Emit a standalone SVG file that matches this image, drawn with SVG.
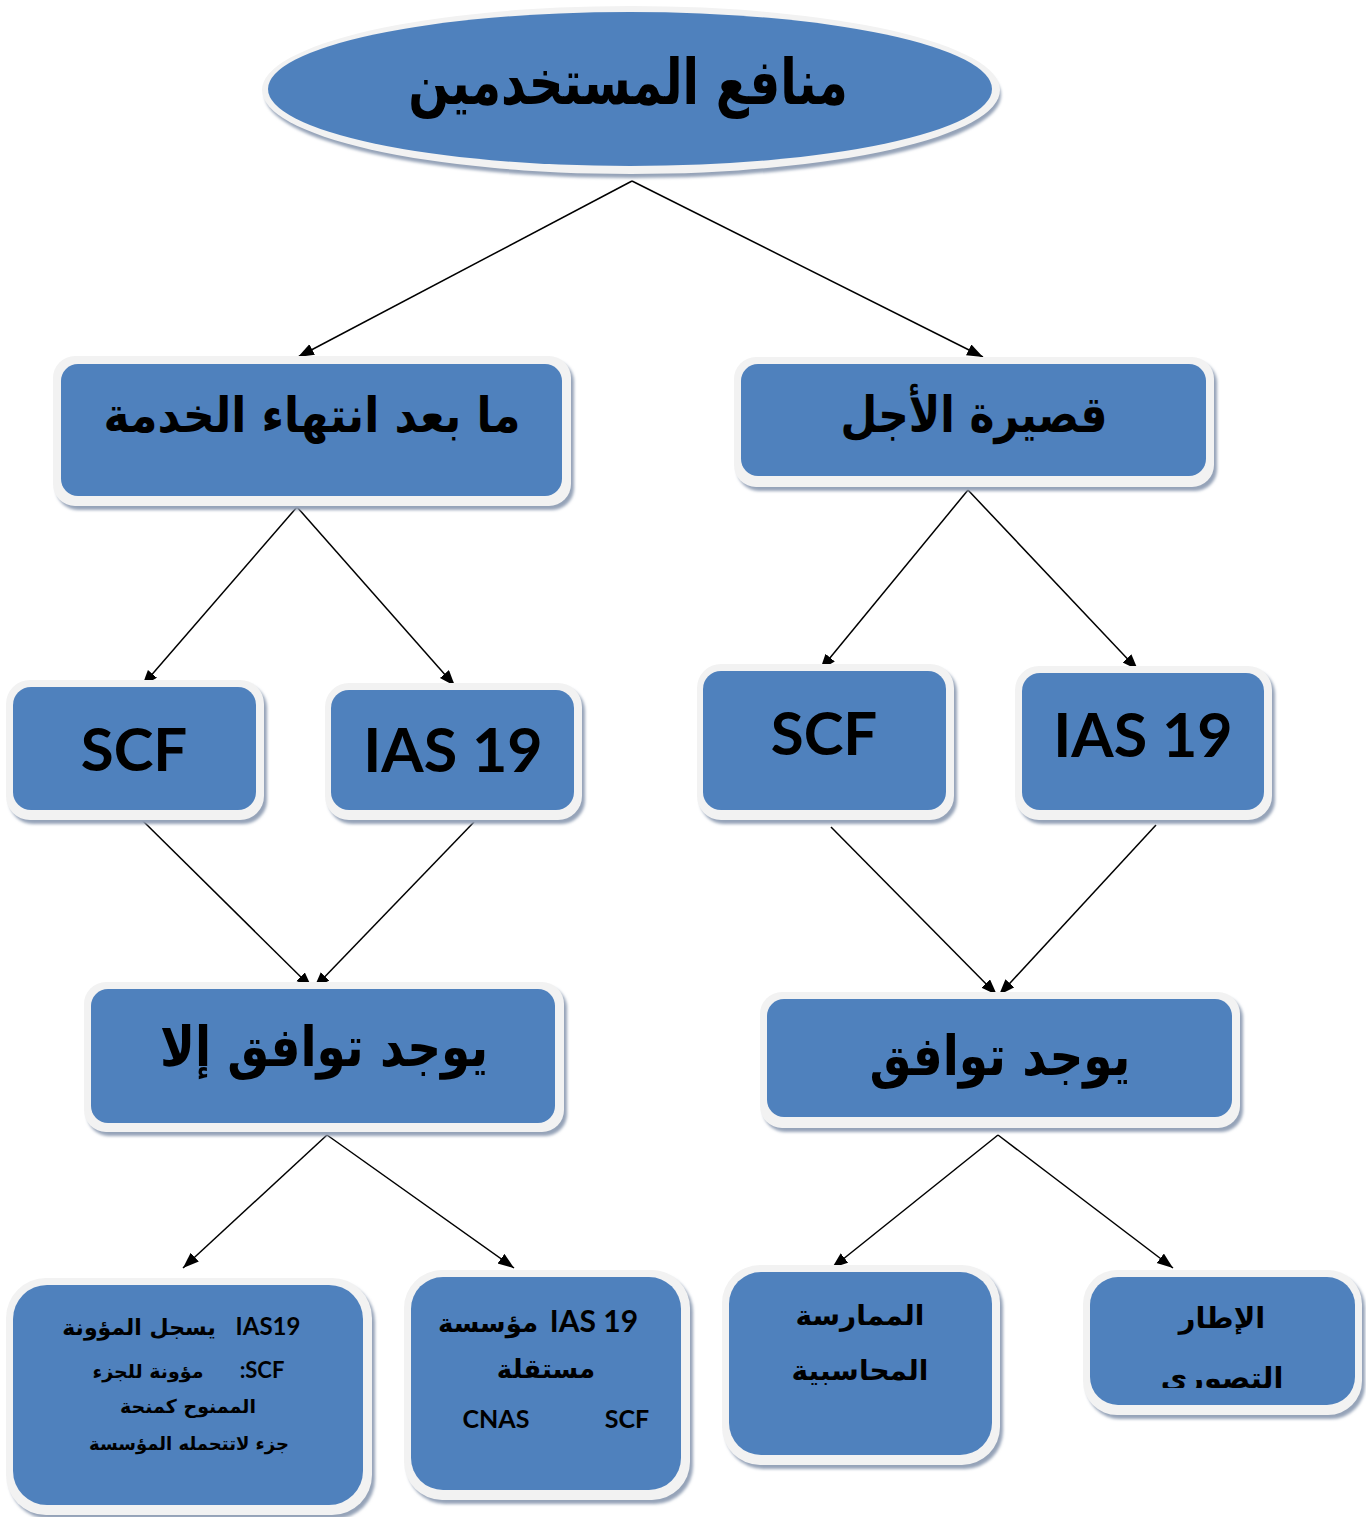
<svg xmlns="http://www.w3.org/2000/svg" width="1366" height="1517" viewBox="0 0 1366 1517">
<style>
.sh{fill:#95a3b8}
.rim{fill:#f2f2f2}
.fill{fill:#4f81bd}
.ar{font-family:"DejaVu Sans","Noto Sans",sans-serif;font-weight:bold;fill:#000;text-anchor:middle}
.la{font-family:Lato,"Open Sans",sans-serif;font-weight:bold;fill:#000;text-anchor:middle}
.ln{stroke:#000;stroke-width:1.5;fill:none;marker-end:url(#ah)}
</style>
<defs>
<marker id="ah" markerUnits="userSpaceOnUse" markerWidth="18" markerHeight="14" refX="16" refY="6" orient="auto">
<path d="M0,0 L16,6 L0,12 z" fill="#000"/>
</marker>
<filter id="bl" x="-5%" y="-5%" width="110%" height="110%"><feGaussianBlur stdDeviation="1.5"/></filter>
<clipPath id="cp4"><rect x="1090" y="1277" width="265" height="111"/></clipPath>
</defs>
<rect width="1366" height="1517" fill="#fff"/>

<g id="connectors">
<line class="ln" x1="632" y1="181" x2="298" y2="357"/>
<line class="ln" x1="632" y1="181" x2="983" y2="357"/>
<line class="ln" x1="297" y1="507" x2="142" y2="686"/>
<line class="ln" x1="297" y1="507" x2="455" y2="686"/>
<line class="ln" x1="968" y1="490" x2="820" y2="670"/>
<line class="ln" x1="968" y1="490" x2="1138" y2="670"/>
<line class="ln" x1="142" y1="820" x2="312" y2="988"/>
<line class="ln" x1="474" y1="822" x2="314" y2="988"/>
<line class="ln" x1="831" y1="827" x2="997" y2="995"/>
<line class="ln" x1="1156" y1="825" x2="999" y2="995"/>
<line class="ln" x1="327" y1="1135" x2="183" y2="1268"/>
<line class="ln" x1="327" y1="1135" x2="514" y2="1268"/>
<line class="ln" x1="998" y1="1135" x2="832" y2="1268"/>
<line class="ln" x1="998" y1="1135" x2="1173" y2="1268"/>
</g>

<g id="root">
<ellipse class="sh" cx="633" cy="95" rx="368" ry="83" filter="url(#bl)"/>
<ellipse class="rim" cx="631" cy="90" rx="369" ry="84"/>
<ellipse class="fill" cx="630" cy="89" rx="362" ry="77"/>
<text class="ar" transform="translate(628,104) scale(0.86,1.12)" x="0" y="0" font-size="56">منافع المستخدمين</text>
</g>

<g id="post-employment">
<rect class="sh" x="56" y="360" width="518" height="150" rx="22" filter="url(#bl)"/>
<rect class="rim" x="53" y="356" width="518" height="150" rx="22"/>
<rect class="fill" x="61" y="364" width="501" height="132" rx="17"/>
<text class="ar" transform="translate(312,432) scale(1,1.1)" x="0" y="0" font-size="44">ما بعد انتهاء الخدمة</text>
</g>

<g id="short-term">
<rect class="sh" x="737" y="361" width="480" height="130" rx="22" filter="url(#bl)"/>
<rect class="rim" x="734" y="357" width="480" height="130" rx="22"/>
<rect class="fill" x="741" y="364" width="465" height="112" rx="17"/>
<text class="ar" transform="translate(974,432) scale(0.92,1.1)" x="0" y="0" font-size="46">قصيرة الأجل</text>
</g>

<g id="scf-left">
<rect class="sh" x="9" y="684" width="258" height="140" rx="24" filter="url(#bl)"/>
<rect class="rim" x="6" y="680" width="258" height="140" rx="24"/>
<rect class="fill" x="13" y="687" width="243" height="123" rx="18"/>
<text class="la" x="134" y="771" font-size="60">SCF</text>
</g>

<g id="ias-left">
<rect class="sh" x="328" y="687" width="257" height="137" rx="24" filter="url(#bl)"/>
<rect class="rim" x="325" y="683" width="257" height="137" rx="24"/>
<rect class="fill" x="331" y="690" width="243" height="120" rx="18"/>
<text class="la" x="453" y="772" font-size="61">IAS 19</text>
</g>

<g id="scf-right">
<rect class="sh" x="700" y="668" width="257" height="156" rx="24" filter="url(#bl)"/>
<rect class="rim" x="697" y="664" width="257" height="156" rx="24"/>
<rect class="fill" x="703" y="671" width="243" height="139" rx="18"/>
<text class="la" x="824" y="755" font-size="60">SCF</text>
</g>

<g id="ias-right">
<rect class="sh" x="1018" y="670" width="257" height="154" rx="24" filter="url(#bl)"/>
<rect class="rim" x="1015" y="666" width="257" height="154" rx="24"/>
<rect class="fill" x="1022" y="673" width="242" height="137" rx="18"/>
<text class="la" x="1143" y="757" font-size="61">IAS 19</text>
</g>

<g id="no-match">
<rect class="sh" x="87" y="986" width="480" height="150" rx="22" filter="url(#bl)"/>
<rect class="rim" x="84" y="982" width="480" height="150" rx="22"/>
<rect class="fill" x="91" y="989" width="464" height="134" rx="17"/>
<text class="ar" transform="translate(324,1066) scale(0.94,1.1)" x="0" y="0" font-size="50">يوجد توافق إلا</text>
</g>

<g id="match">
<rect class="sh" x="763" y="996" width="480" height="136" rx="22" filter="url(#bl)"/>
<rect class="rim" x="760" y="992" width="480" height="136" rx="22"/>
<rect class="fill" x="767" y="999" width="465" height="118" rx="17"/>
<text class="ar" transform="translate(1000,1075) scale(0.94,1.1)" x="0" y="0" font-size="50">يوجد توافق</text>
</g>

<g id="box-ias19-provision">
<rect class="sh" x="9" y="1282" width="366" height="237" rx="40" filter="url(#bl)"/>
<rect class="rim" x="6" y="1278" width="366" height="237" rx="40"/>
<rect class="fill" x="13" y="1285" width="350" height="220" rx="34"/>
<text class="la" x="268" y="1335" font-size="24">IAS19</text>
<text class="ar" x="139" y="1335" font-size="22">يسجل المؤونة</text>
<text class="la" x="262" y="1378" font-size="22">:SCF</text>
<text class="ar" x="148" y="1378" font-size="19">مؤونة للجزء</text>
<text class="ar" x="188" y="1413" font-size="19">الممنوح كمنحة</text>
<text class="ar" x="189" y="1450" font-size="18">جزء لاتتحمله المؤسسة</text>
</g>

<g id="box-independent">
<rect class="sh" x="407" y="1274" width="286" height="230" rx="38" filter="url(#bl)"/>
<rect class="rim" x="404" y="1270" width="286" height="230" rx="38"/>
<rect class="fill" x="411" y="1277" width="270" height="213" rx="32"/>
<text class="la" x="594" y="1332" font-size="30">IAS 19</text>
<text class="ar" x="488" y="1332" font-size="26">مؤسسة</text>
<text class="ar" x="546" y="1378" font-size="26">مستقلة</text>
<text class="la" x="496" y="1428" font-size="25">CNAS</text>
<text class="la" x="627" y="1428" font-size="25">SCF</text>
</g>

<g id="box-practice">
<rect class="sh" x="725" y="1269" width="278" height="200" rx="38" filter="url(#bl)"/>
<rect class="rim" x="722" y="1265" width="278" height="200" rx="38"/>
<rect class="fill" x="729" y="1272" width="263" height="183" rx="32"/>
<text class="ar" x="860" y="1325" font-size="28">الممارسة</text>
<text class="ar" x="860" y="1380" font-size="28">المحاسبية</text>
</g>

<g id="box-framework">
<rect class="sh" x="1086" y="1274" width="279" height="145" rx="34" filter="url(#bl)"/>
<rect class="rim" x="1083" y="1270" width="279" height="145" rx="34"/>
<rect class="fill" x="1090" y="1277" width="265" height="128" rx="28"/>
<text class="ar" x="1222" y="1328" font-size="29">الإطار</text>
<text class="ar" x="1222" y="1388" font-size="29" clip-path="url(#cp4)">التصوري</text>
</g>
</svg>
